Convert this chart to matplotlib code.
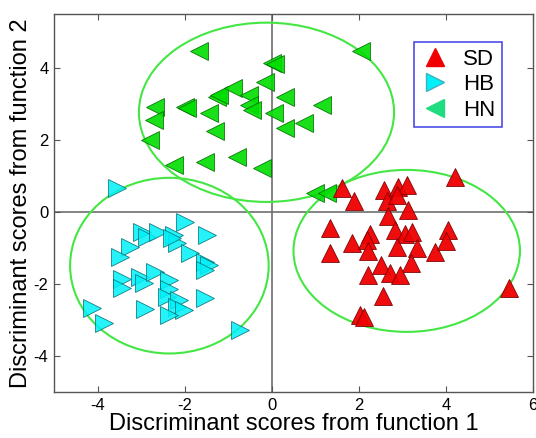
import numpy as np
import matplotlib
matplotlib.use('Agg')
import matplotlib.pyplot as plt
from matplotlib.patches import Ellipse
from matplotlib.lines import Line2D

plt.rcParams['font.family'] = ['Liberation Sans', 'DejaVu Sans']

# discriminant scores (function 1, function 2)
sd_x = [1.61, 1.9, 1.33, 1.33, 1.85, 2.25, 2.18, 2.2, 2.52, 2.2, 2.56, 2.02, 2.13,
        2.57, 2.91, 3.1, 2.64, 2.87, 2.67, 3.14, 2.83, 3.05, 3.22, 2.88, 3.34,
        3.74, 4.05, 4.0, 3.2, 2.72, 2.94, 4.2, 5.45]
sd_y = [0.67, 0.3, -0.45, -1.14, -0.86, -0.62, -0.78, -1.08, -1.48, -1.75, -2.33, -2.87, -2.92,
        0.61, 0.7, 0.75, 0.3, 0.47, -0.12, 0.06, -0.5, -0.6, -0.55, -0.97, -1.0,
        -1.12, -0.5, -0.8, -1.43, -1.7, -1.75, 0.98, -2.1]

hb_x = [-3.56, -1.99, -1.49, -2.98, -2.87, -2.6, -2.25, -2.18, -2.29, -3.25, -3.48,
        -1.88, -1.53, -1.45, -1.53, -3.44, -3.44, -3.02, -2.94, -2.68, -2.37, -2.37,
        -2.41, -2.14, -2.18, -2.02, -2.37, -2.91, -1.53, -4.13, -3.85, -0.73]
hb_y = [0.67, -0.28, -0.64, -0.55, -0.69, -0.55, -0.64, -0.87, -0.72, -0.97, -1.25,
        -1.15, -1.38, -1.47, -1.6, -1.85, -2.1, -1.8, -1.98, -1.67, -1.9, -2.13,
        -2.36, -2.45, -2.64, -2.73, -2.87, -2.7, -2.4, -2.68, -3.09, -3.29]

hn_x = [-1.67, -2.68, -2.71, -2.8, -2.25, -1.99, -1.95, -1.45, -1.3, -1.53, -1.26,
        -1.22, -0.88, -0.53, -0.53, -0.46, -0.8, -0.23, -0.16, 0.0, 0.07, 0.05,
        0.3, 1.15, 0.3, 0.73, 2.04, 0.99, 1.28]
hn_y = [4.46, 2.92, 2.56, 2.0, 1.31, 2.92, 2.88, 2.75, 2.24, 1.4, 3.2,
        3.25, 3.44, 3.25, 2.98, 2.84, 1.53, 1.22, 3.62, 4.15, 4.1, 2.75,
        3.2, 2.98, 2.34, 2.48, 4.46, 0.53, 0.53]

# group ellipses: centre x, centre y, width, height
ell_cx = [3.1, -2.35, -0.12]
ell_cy = [-1.08, -1.49, 2.77]
ell_w = [5.2, 4.56, 5.86]
ell_h = [4.5, 4.88, 4.98]

fig = plt.figure(figsize=(5.36, 4.38), dpi=100)
ax = fig.add_axes([0.1007, 0.105, 0.8937, 0.863])

ax.axhline(0, color='#6e6e6e', lw=1.2, zorder=1)
ax.axvline(0, color='#6e6e6e', lw=1.2, zorder=1)

for cx, cy, w, h in zip(ell_cx, ell_cy, ell_w, ell_h):
    ax.add_patch(Ellipse((cx, cy), w, h, fill=False, edgecolor='#44e644', lw=1.5, zorder=2))

ms = 13
ax.plot(hn_x, hn_y, '<', ms=ms, mfc='#00dd00', mec='#006b00', mew=0.6, alpha=0.9, ls='none', zorder=3)
ax.plot(hb_x, hb_y, '>', ms=ms, mfc='#00f0f8', mec='#006a70', mew=0.6, alpha=0.85, ls='none', zorder=3)
ax.plot(sd_x, sd_y, '^', ms=ms, mfc='#f00000', mec='#7a0000', mew=0.6, alpha=0.95, ls='none', zorder=3)

ax.set_xlim(-5, 6)
ax.set_ylim(-5, 5.5)
ax.set_xticks([-4, -2, 0, 2, 4, 6])
ax.set_xticklabels(['-4', '-2', '0', '2', '4', '6'])
ax.set_yticks([-4, -2, 0, 2, 4])
ax.set_yticklabels(['-4', '-2', '0', '2', '4'])
ax.tick_params(direction='in', top=True, right=True, length=4, labelsize=12, color='#555555', pad=4)
for s in ax.spines.values():
    s.set_color('#555555')
    s.set_linewidth(1.0)

ax.set_xlabel('Discriminant scores from function 1', fontsize=17, labelpad=0)
ax.set_ylabel('Discriminant scores from function 2', fontsize=17, labelpad=1)

handles = [
    Line2D([], [], marker='^', ls='none', ms=ms, mfc='#f00000', mec='#f00000'),
    Line2D([], [], marker='>', ls='none', ms=ms, mfc='#00f0f8', mec='#40b0c0'),
    Line2D([], [], marker='<', ls='none', ms=ms, mfc='#20dc80', mec='#20dc80'),
]
leg = ax.legend(handles, ['SD', 'HB', 'HN'], loc='upper right', bbox_to_anchor=(0.935, 0.926),
                borderaxespad=0, fontsize=16, frameon=True, fancybox=False, handletextpad=0.6,
                borderpad=0.3, labelspacing=0.2, handlelength=1.3)
leg.get_frame().set_edgecolor('#2020e0')
leg.get_frame().set_linewidth(1.2)

fig.savefig('out.png', dpi=100)
